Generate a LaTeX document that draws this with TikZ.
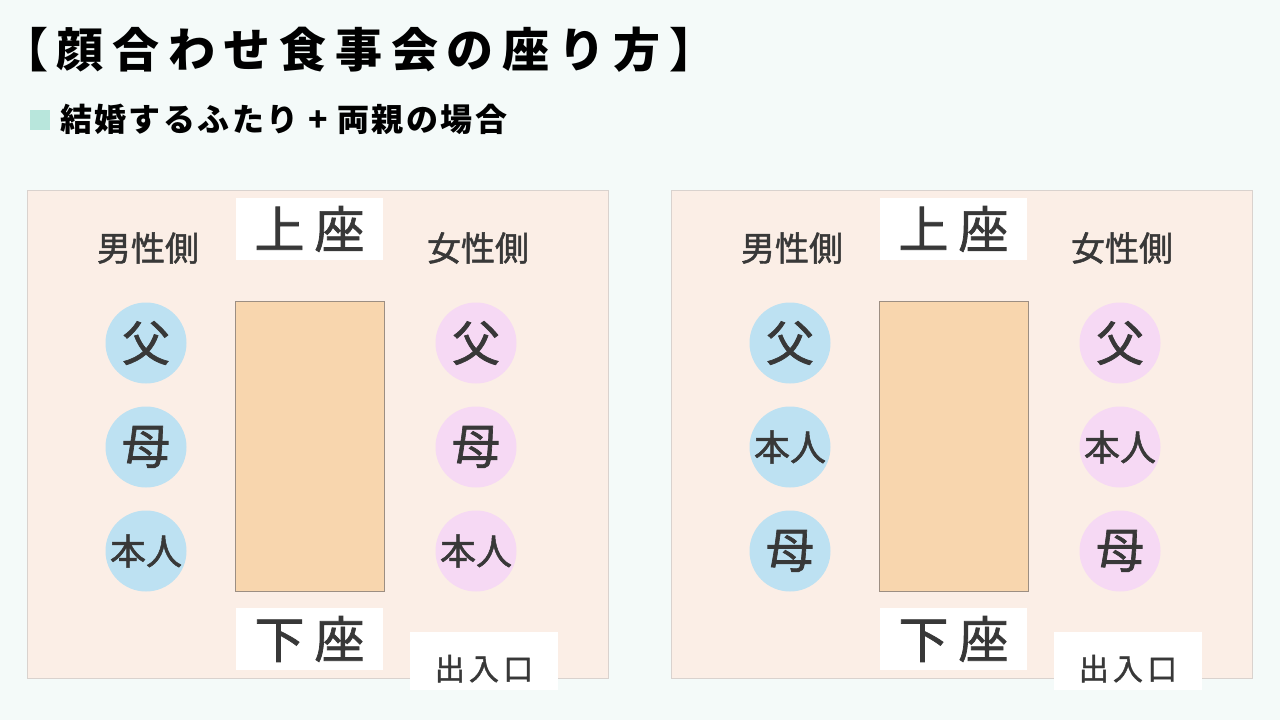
\documentclass[tikz,border=0pt]{standalone}
\usepackage{fontspec}
\setmainfont{Noto Sans CJK JP}
\newfontfamily\medfont{Noto Sans CJK JP}[FakeBold=1.4]
\definecolor{bgc}{HTML}{F4FAF9}
\definecolor{panelc}{HTML}{FBEEE6}
\definecolor{panelb}{HTML}{D9D2CE}
\definecolor{tablec}{HTML}{F8D6AE}
\definecolor{tableb}{HTML}{9C8E82}
\definecolor{bluec}{HTML}{BDE1F2}
\definecolor{pinkc}{HTML}{F6D9F4}
\definecolor{sqc}{HTML}{B8E6DC}
\definecolor{txtc}{HTML}{383838}
\tikzset{
  panel/.style={draw=panelb, line width=1pt, fill=panelc, minimum width=581pt, minimum height=488pt, inner sep=0pt},
  tablebox/.style={draw=tableb, line width=0.6pt, fill=tablec, minimum width=149pt, minimum height=290pt, inner sep=0pt},
  whitebox/.style={fill=white, minimum width=147pt, minimum height=62pt, inner sep=0pt, text=txtc,
    font=\medfont\fontsize{50}{54}\selectfont\addfontfeature{LetterSpace=20}},
  exitbox/.style={fill=white, minimum width=148pt, minimum height=58pt, inner sep=0pt, text=txtc,
    font=\medfont\fontsize{30}{34}\selectfont\addfontfeature{LetterSpace=14}},
  sidelabel/.style={text=txtc, inner sep=0pt, font=\medfont\fontsize{34}{38}\selectfont},
  seatb/.style={circle, fill=bluec, minimum size=81pt, inner sep=0pt, text=txtc},
  seatp/.style={circle, fill=pinkc, minimum size=81pt, inner sep=0pt, text=txtc},
  big/.style={font=\medfont\fontsize{48}{52}\selectfont},
  small/.style={font=\medfont\fontsize{36}{40}\selectfont},
}
\newcommand{\exittext}{\raisebox{-19pt}[0pt][0pt]{出入口}}
\begin{document}
\begin{tikzpicture}[x=1pt,y=-1pt]
\useasboundingbox (0,0) rectangle (1280,720);
\fill[bgc] (0,0) rectangle (1280,720);
\node[anchor=west, inner sep=0pt, font=\fontsize{47}{52}\selectfont\bfseries\addfontfeature{LetterSpace=18.5}] (title) at (1,50) {【顔合わせ食事会の座り方】};
\node[fill=sqc, minimum size=20pt, inner sep=0pt] (sq) at (40,120) {};
\node[anchor=west, inner sep=0pt, font=\fontsize{32}{36}\selectfont\bfseries\addfontfeature{LetterSpace=7.5}] (sub) at (60,119) {結婚するふたり + 両親の場合};
% left panel
\node[panel] (lp) at (317.5,434) {};
\node[tablebox] (lt) at (309.5,446) {};
\node[whitebox] (lu) at (309.5,229) {上座};
\node[whitebox] (ld) at (309.5,639) {下座};
\node[exitbox] (le) at (484,661) {\exittext};
\node[sidelabel] (lm) at (148,248) {男性側};
\node[sidelabel] (lw) at (478,248) {女性側};
\node[seatb, big] (lm1) at (146,343) {父};
\node[seatb, big] (lm2) at (146,447) {母};
\node[seatb, small] (lm3) at (146,551) {本人};
\node[seatp, big] (lw1) at (476,343) {父};
\node[seatp, big] (lw2) at (476,447) {母};
\node[seatp, small] (lw3) at (476,551) {本人};
% right panel
\node[panel] (rp) at (961.5,434) {};
\node[tablebox] (rt) at (953.5,446) {};
\node[whitebox] (ru) at (953.5,229) {上座};
\node[whitebox] (rd) at (953.5,639) {下座};
\node[exitbox] (re) at (1128,661) {\exittext};
\node[sidelabel] (rm) at (792,248) {男性側};
\node[sidelabel] (rw) at (1122,248) {女性側};
\node[seatb, big] (rm1) at (790,343) {父};
\node[seatb, small] (rm2) at (790,447) {本人};
\node[seatb, big] (rm3) at (790,551) {母};
\node[seatp, big] (rw1) at (1120,343) {父};
\node[seatp, small] (rw2) at (1120,447) {本人};
\node[seatp, big] (rw3) at (1120,551) {母};
\end{tikzpicture}
\end{document}
